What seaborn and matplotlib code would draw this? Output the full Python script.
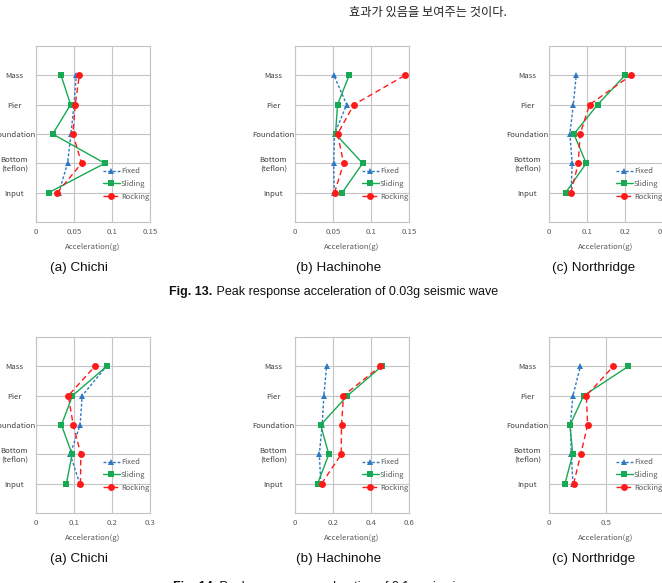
import matplotlib
matplotlib.use("Agg")
import matplotlib.pyplot as plt
import seaborn as sns
import pandas as pd

# ---------------- data ----------------
categories = ["Input", "Bottom\n(teflon)", "Foundation", "Pier", "Mass"]
series_names = ["Fixed", "Sliding", "Rocking"]

# Fig. 13 (0.03g)
chichi_003_fixed = [0.030, 0.0415, 0.046, 0.050, 0.053]
chichi_003_sliding = [0.0166, 0.0905, 0.022, 0.0455, 0.033]
chichi_003_rocking = [0.028, 0.060, 0.0485, 0.0516, 0.057]

hachinohe_003_fixed = [0.0516, 0.051, 0.052, 0.068, 0.0512]
hachinohe_003_sliding = [0.062, 0.089, 0.0533, 0.056, 0.0713]
hachinohe_003_rocking = [0.052, 0.064, 0.056, 0.0774, 0.1447]

northridge_003_fixed = [0.058, 0.061, 0.055, 0.064, 0.0716]
northridge_003_sliding = [0.0437, 0.098, 0.0655, 0.128, 0.200]
northridge_003_rocking = [0.0576, 0.077, 0.082, 0.1066, 0.2157]

# Fig. 14 (0.1g)
chichi_01_fixed = [0.115, 0.090, 0.116, 0.1216, 0.185]
chichi_01_sliding = [0.080, 0.095, 0.067, 0.096, 0.186]
chichi_01_rocking = [0.117, 0.118, 0.098, 0.085, 0.155]

hachinohe_01_fixed = [0.136, 0.128, 0.143, 0.152, 0.166]
hachinohe_01_sliding = [0.119, 0.178, 0.135, 0.276, 0.456]
hachinohe_01_rocking = [0.140, 0.243, 0.245, 0.255, 0.449]

northridge_01_fixed = [0.21, 0.196, 0.187, 0.21, 0.275]
northridge_01_sliding = [0.14, 0.208, 0.184, 0.304, 0.696]
northridge_01_rocking = [0.216, 0.278, 0.339, 0.327, 0.564]

ticks_a = [0, 0.05, 0.1, 0.15]
ticks_a_labels = ["0", "0.05", "0.1", "0.15"]
ticks_b = [0, 0.1, 0.2, 0.3]
ticks_b_labels = ["0", "0.1", "0.2", "0.3"]
ticks_c = [0, 0.2, 0.4, 0.6]
ticks_c_labels = ["0", "0.2", "0.4", "0.6"]
ticks_d = [0, 0.5, 1.0]
ticks_d_labels = ["0", "0.5", "1"]

captions = ["(a) Chichi", "(b) Hachinohe", "(c) Northridge"]
header_text = "효과가 있음을 보여주는 것이다."
fig13_rest = " Peak response acceleration of 0.03g seismic wave"
fig14_rest = " Peak response acceleration of 0.1g seismic wave"

# ---------------- style ----------------
sns.set_style("white")
plt.rcParams["font.family"] = ["Noto Sans CJK KR", "DejaVu Sans"]

W, H = 662, 583
fig = plt.figure(figsize=(W / 100, H / 100), dpi=100)
fig.patch.set_facecolor("white")

colors = {"Fixed": "#2f78c4", "Sliding": "#17a954", "Rocking": "#ff1a1a"}
markers = {"Fixed": "^", "Sliding": "s", "Rocking": "o"}
msizes = {"Fixed": 4.0, "Sliding": 4.5, "Rocking": 5.0}
lstyles = {"Fixed": (0, (2.0, 1.4)), "Sliding": "-", "Rocking": (0, (4.0, 2.6))}

GRAY = "#595959"
GRID = "#c4c4c4"
tick_font = dict(family=["Noto Sans CJK KR", "DejaVu Sans"], size=5.6)

panels = [
    # left_px, top_px, data, ticks, labels
    (36, 46, (chichi_003_fixed, chichi_003_sliding, chichi_003_rocking), ticks_a, ticks_a_labels),
    (295, 46, (hachinohe_003_fixed, hachinohe_003_sliding, hachinohe_003_rocking), ticks_a, ticks_a_labels),
    (549, 46, (northridge_003_fixed, northridge_003_sliding, northridge_003_rocking), ticks_b, ticks_b_labels),
    (36, 337, (chichi_01_fixed, chichi_01_sliding, chichi_01_rocking), ticks_b, ticks_b_labels),
    (295, 337, (hachinohe_01_fixed, hachinohe_01_sliding, hachinohe_01_rocking), ticks_c, ticks_c_labels),
    (549, 337, (northridge_01_fixed, northridge_01_sliding, northridge_01_rocking), ticks_d, ticks_d_labels),
]

AW, AH = 114, 176
ypos = list(range(1, len(categories) + 1))

for left, top, series, xt, xtl in panels:
    ax = fig.add_axes([left / W, 1 - (top + AH) / H, AW / W, AH / H])
    for name, vals in zip(series_names, series):
        df = pd.DataFrame({"acc": vals, "pos": ypos})
        sns.lineplot(data=df, x="acc", y="pos", sort=False, estimator=None,
                     ax=ax, color=colors[name], marker=markers[name],
                     markersize=msizes[name], markeredgewidth=0,
                     linewidth=1.0, label=name)
        ln = ax.lines[-1]
        ln.set_linestyle(lstyles[name])
    ax.set_xlim(xt[0], xt[-1])
    ax.set_ylim(0, 6)
    ax.set_xticks(xt)
    ax.set_xticklabels(xtl, fontdict=tick_font, color=GRAY)
    ax.set_yticks(ypos)
    ax.set_yticklabels(categories, fontdict=tick_font, color="#404040",
                       ha="center", linespacing=1.1)
    ax.tick_params(axis="y", length=0, pad=15.5)
    ax.tick_params(axis="x", length=0, pad=4.0)
    ax.grid(True, color=GRID, linewidth=0.8)
    ax.set_axisbelow(True)
    for sp in ax.spines.values():
        sp.set_visible(True)
        sp.set_color(GRID)
        sp.set_linewidth(0.8)
    ax.set_xlabel("")
    ax.set_ylabel("")
    h, l = ax.get_legend_handles_labels()
    ax.legend(h, l, loc="upper left", bbox_to_anchor=(0.585, 0.31),
              frameon=False, borderpad=0, borderaxespad=0,
              handlelength=2.3, handletextpad=0.15, labelspacing=0.62,
              prop=dict(family=["Noto Sans CJK KR", "DejaVu Sans"], size=5.4),
              labelcolor=GRAY)
    # axis title
    fig.text((left + AW / 2) / W, 1 - (top + AH + 25) / H, "Acceleration(g)",
             ha="center", va="center", color=GRAY,
             family=["Noto Sans CJK KR", "DejaVu Sans"], size=5.6)

# captions
cap_x = [79, 339, 594]
for cap_y in [268, 559]:
    for cx, c in zip(cap_x, captions):
        fig.text(cx / W, 1 - cap_y / H, c, ha="center", va="center",
                 family=["Liberation Sans", "DejaVu Sans"], size=9.7, color="#111111")

# header text
fig.text(428 / W, 1 - 12 / H, header_text, ha="center", va="center",
         family=["Noto Sans CJK KR", "DejaVu Sans"], size=8.8, color="#222222")

# Figure captions (bold part + regular part, centered)
renderer = fig.canvas.get_renderer()


def fig_caption(xc, yc, bold, rest):
    t1 = fig.text(0, 0, bold, fontweight="bold", ha="left", va="center",
                  family=["Liberation Sans", "DejaVu Sans"], size=9, color="#111111")
    t2 = fig.text(0, 0, rest, ha="left", va="center",
                  family=["Liberation Sans", "DejaVu Sans"], size=9, color="#111111")
    w1 = t1.get_window_extent(renderer).width
    w2 = t2.get_window_extent(renderer).width
    x0 = xc - (w1 + w2) / 2
    t1.set_position((x0 / W, 1 - yc / H))
    t2.set_position(((x0 + w1) / W, 1 - yc / H))


fig_caption(333.5, 292, "Fig. 13.", fig13_rest)
fig_caption(333.5, 587, "Fig. 14.", fig14_rest)

fig.savefig("out.png", dpi=100, facecolor="white")
